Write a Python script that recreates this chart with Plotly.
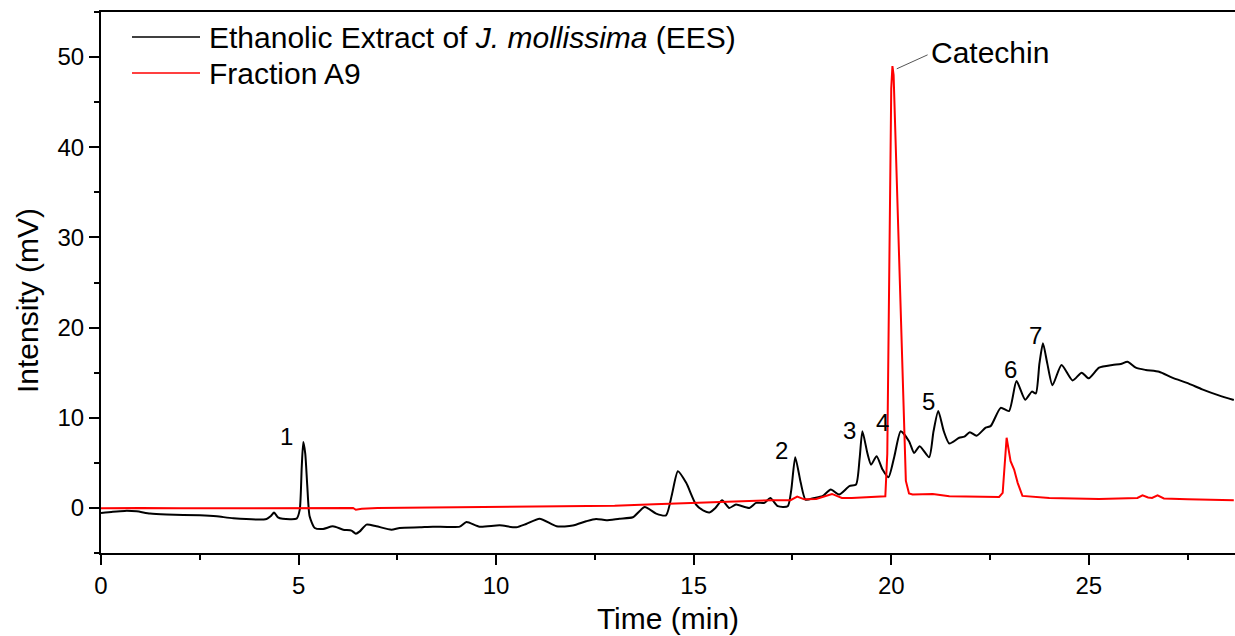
import plotly.graph_objects as go

# ---------------- data ----------------
ees_time = [0, 0.3, 0.6, 0.9, 1.24, 1.66, 2.5, 2.93, 3.35, 4.19, 4.3, 4.38, 4.48, 4.6, 4.95,
            5.03, 5.08, 5.12, 5.17, 5.22, 5.28, 5.41, 5.62, 5.87, 6.13, 6.34, 6.45, 6.55, 6.72,
            6.97, 7.35, 7.56, 8.07, 8.4, 9.08, 9.25, 9.58, 10.09, 10.51, 10.76, 11.1, 11.53,
            11.94, 12.28, 12.53, 12.79, 13.12, 13.46, 13.76, 14.05, 14.3, 14.45, 14.6, 14.81,
            15.06, 15.25, 15.4, 15.55, 15.72, 15.9, 16.07, 16.41, 16.58, 16.79, 16.94, 17.13,
            17.38, 17.47, 17.57, 17.71, 17.83, 18.05, 18.26, 18.47, 18.68, 18.94, 19.11, 19.2,
            19.27, 19.4, 19.49, 19.63, 19.78, 19.93, 20.08, 20.24, 20.45, 20.58, 20.72, 20.96,
            21.07, 21.19, 21.33, 21.47, 21.72, 21.85, 21.99, 22.16, 22.39, 22.52, 22.77, 22.98,
            23.17, 23.39, 23.56, 23.66, 23.75, 23.84, 23.95, 24.08, 24.31, 24.59, 24.82, 25.0,
            25.26, 25.6, 25.81, 25.98, 26.19, 26.44, 26.78, 27.11, 27.53, 27.87, 28.29, 28.67]
ees_intensity = [-0.56, -0.42, -0.33, -0.38, -0.63, -0.74, -0.82, -0.93, -1.15, -1.22, -0.9, -0.52,
                 -1.05, -1.2, -1.19, -0.19, 4.5, 7.3, 6.0, 2.5, -0.93, -2.22, -2.33, -2.04, -2.41,
                 -2.52, -2.86, -2.6, -1.85, -2.04, -2.41, -2.22, -2.15, -2.08, -2.08, -1.56, -2.08,
                 -1.93, -2.15, -1.78, -1.19, -2.04, -1.96, -1.48, -1.22, -1.37, -1.19, -1.04, 0.1,
                 -0.63, -0.82, 1.5, 4.07, 2.78, 0.37, -0.3, -0.5, 0.0, 0.85, 0.0, 0.37, 0.0, 0.56,
                 0.56, 1.1, 0.19, 0.19, 2.0, 5.63, 2.78, 0.93, 1.1, 1.3, 2.04, 1.48, 2.41, 2.6, 5.5,
                 8.5, 6.0, 4.8, 5.74, 4.26, 3.41, 5.74, 8.5, 7.4, 6.1, 6.85, 5.63, 8.5, 10.74, 8.5,
                 7.14, 7.78, 7.9, 8.4, 8.0, 8.9, 9.1, 11.1, 10.74, 14.07, 12.0, 12.9, 12.7, 16.0,
                 18.26, 16.0, 13.6, 15.85, 14.14, 15.0, 14.37, 15.55, 15.85, 15.96, 16.22, 15.55,
                 15.3, 15.1, 14.45, 13.78, 13.15, 12.48, 11.96]

a9_time = [0, 1, 2, 3, 4, 5, 6, 6.38, 6.45, 6.6, 7, 8, 9, 10, 11, 12, 13, 14, 15, 16, 17, 17.45,
           17.62, 17.8, 18.1, 18.5, 18.75, 19.0, 19.5, 19.85, 19.9, 20.0, 20.03, 20.06, 20.37,
           20.45, 20.54, 21.05, 21.47, 22.0, 22.73, 22.82, 22.92, 23.02, 23.11, 23.2, 23.32, 24.0,
           25.26, 26.23, 26.36, 26.5, 26.6, 26.74, 26.9, 27.5, 28.67]
a9_intensity = [-0.05, 0.0, -0.05, -0.05, -0.02, 0.0, 0.0, 0.0, -0.2, -0.1, 0.0, 0.05, 0.1, 0.15,
                0.15, 0.2, 0.25, 0.4, 0.55, 0.75, 0.85, 0.85, 1.25, 0.95, 1.0, 1.55, 1.1, 1.1, 1.2,
                1.3, 6.0, 46.5, 49.0, 48.0, 3.0, 1.6, 1.48, 1.55, 1.3, 1.25, 1.22, 1.67, 7.78, 5.18,
                4.26, 2.78, 1.33, 1.1, 1.0, 1.1, 1.4, 1.15, 1.1, 1.4, 1.05, 0.95, 0.85]

peak_labels = ["1", "2", "3", "4", "5", "6", "7"]
peak_label_time = [4.69, 17.21, 18.95, 19.79, 20.94, 23.03, 23.64]
peak_label_intensity = [7.92, 6.39, 8.6, 9.44, 11.84, 15.3, 19.17]

catechin_text = "Catechin"
catechin_text_pos = (20.96, 50.55)
catechin_leader = (20.14, 48.7, 20.92, 50.25)

x_tick_values = [0, 5, 10, 15, 20, 25]
y_tick_values = [0, 10, 20, 30, 40, 50]
series_names = ["Ethanolic Extract of <i>J. mollissima</i> (EES)", "Fraction A9"]
series_colors = ["black", "#ff0000"]

# ---------------- figure ----------------
FONT = "Liberation Sans, Arial, sans-serif"
W, H = 1235, 636
ML, MR, MT, MB = 101, 0, 12, 83
PW, PH = W - ML - MR, H - MT - MB


def px_x(p):
    return (p - ML) / PW


def px_y(p):
    return (H - MB - p) / PH


fig = go.Figure()
fig.add_trace(go.Scatter(x=ees_time, y=ees_intensity, mode="lines", name=series_names[0],
                         line=dict(color=series_colors[0], width=2, shape="spline", smoothing=0.6)))
fig.add_trace(go.Scatter(x=a9_time, y=a9_intensity, mode="lines", name=series_names[1],
                         line=dict(color=series_colors[1], width=2)))

for txt, tx, ty in zip(peak_labels, peak_label_time, peak_label_intensity):
    fig.add_annotation(x=tx, y=ty, text=txt, showarrow=False,
                       font=dict(family=FONT, size=24, color="black"))

fig.add_annotation(x=catechin_text_pos[0], y=catechin_text_pos[1], text=catechin_text,
                   showarrow=False, xanchor="left", yanchor="middle",
                   font=dict(family=FONT, size=30, color="black"))
fig.add_shape(type="line", x0=catechin_leader[0], y0=catechin_leader[1],
              x1=catechin_leader[2], y1=catechin_leader[3],
              line=dict(color="#555555", width=1))

# legend drawn as keys (line + label) in the top-left corner
legend_rows_px = [37, 73]
for name, color, ry in zip(series_names, series_colors, legend_rows_px):
    fig.add_shape(type="line", xref="paper", yref="paper",
                  x0=px_x(132), x1=px_x(200), y0=px_y(ry), y1=px_y(ry),
                  line=dict(color=color, width=1.5))
    fig.add_annotation(xref="paper", yref="paper", x=px_x(207), y=px_y(ry), text=name,
                       showarrow=False, xanchor="left", yanchor="middle",
                       font=dict(family=FONT, size=30, color="black"))

# y axis title placed as in reference
fig.add_annotation(xref="paper", yref="paper", x=px_x(27), y=px_y(301), text="Intensity (mV)",
                   textangle=-90, showarrow=False, xanchor="center", yanchor="middle",
                   font=dict(family=FONT, size=30, color="black"))

fig.update_layout(
    width=W, height=H,
    margin=dict(l=ML, r=MR, t=MT, b=MB),
    paper_bgcolor="white", plot_bgcolor="white",
    font=dict(family=FONT, size=24, color="black"),
    showlegend=False,
    xaxis=dict(range=[0, 28.7], tickvals=x_tick_values, ticks="outside", ticklen=10,
               tickwidth=2, tickcolor="black", showline=True, linewidth=2, linecolor="black",
               mirror=True, showgrid=False, zeroline=False,
               minor=dict(dtick=2.5, tick0=0, ticks="outside", ticklen=5, tickwidth=2,
                          tickcolor="black", showgrid=False),
               title=dict(text="Time (min)", font=dict(family=FONT, size=30), standoff=10),
               tickfont=dict(family=FONT, size=24)),
    yaxis=dict(range=[-5, 55], tickvals=y_tick_values, ticks="outside", ticklen=10,
               tickwidth=2, tickcolor="black", showline=True, linewidth=2, linecolor="black",
               mirror=False, showgrid=False, zeroline=False,
               minor=dict(dtick=5, tick0=0, ticks="outside", ticklen=5, tickwidth=2,
                          tickcolor="black", showgrid=False),
               tickfont=dict(family=FONT, size=24)),
)

fig.write_html("out.html")
